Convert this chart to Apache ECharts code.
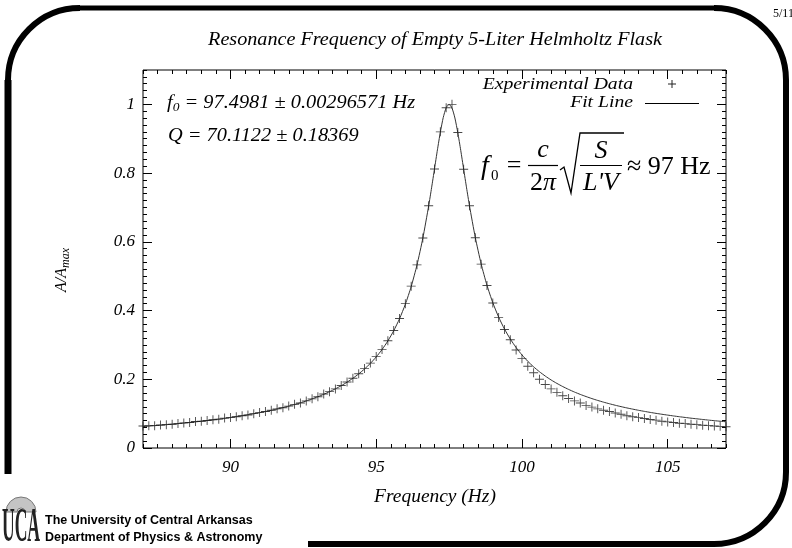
<!DOCTYPE html>
<html><head><meta charset="utf-8">
<script src="https://cdn.jsdelivr.net/npm/echarts/dist/echarts.min.js"></script>
<style>html,body{margin:0;padding:0;background:#fff}#c{width:792px;height:548px}</style>
</head><body><div id="c"></div>
<script>
// ---- data ----
const dataFreq = [87.0,87.2,87.4,87.6,87.8,88.0,88.2,88.4,88.6,88.8,89.0,89.2,89.4,89.6,89.8,90.0,90.2,90.4,90.6,90.8,
  91.0,91.2,91.4,91.6,91.8,92.0,92.2,92.4,92.6,92.8,93.0,93.2,93.4,93.6,93.8,94.0,94.2,94.4,94.6,94.8,
  95.0,95.2,95.4,95.6,95.8,96.0,96.2,96.4,96.6,96.8,97.0,97.2,97.4,97.6,97.8,98.0,98.2,98.4,98.6,98.8,
  99.0,99.2,99.4,99.6,99.8,100.0,100.2,100.4,100.6,100.8,101.0,101.2,101.4,101.6,101.8,102.0,102.2,102.4,102.6,102.8,
  103.0,103.2,103.4,103.6,103.8,104.0,104.2,104.4,104.6,104.8,105.0,105.2,105.4,105.6,105.8,106.0,106.2,106.4,106.6,106.8,107.0];
const dataAmp = [0.064,0.065,0.065,0.067,0.068,0.069,0.071,0.073,0.074,0.077,0.078,0.080,0.082,0.084,0.087,0.089,0.091,0.094,0.096,0.100,
  0.103,0.106,0.110,0.114,0.117,0.122,0.127,0.131,0.137,0.143,0.149,0.157,0.164,0.172,0.182,0.192,0.203,0.216,0.231,0.247,
  0.266,0.287,0.312,0.342,0.377,0.420,0.471,0.533,0.611,0.705,0.812,0.920,0.990,1.000,0.918,0.811,0.705,0.612,0.535,0.473,
  0.422,0.380,0.345,0.315,0.285,0.260,0.238,0.219,0.200,0.185,0.172,0.162,0.152,0.144,0.137,0.131,0.124,0.119,0.114,0.110,
  0.106,0.102,0.098,0.094,0.091,0.089,0.086,0.083,0.081,0.078,0.076,0.074,0.072,0.071,0.069,0.068,0.066,0.065,0.064,0.063,0.062];
const fitFreq = [87.0,87.2,87.4,87.6,87.8,88.0,88.2,88.4,88.6,88.8,89.0,89.2,89.4,89.6,89.8,90.0,90.2,90.4,90.6,90.8,
  91.0,91.2,91.4,91.6,91.8,92.0,92.2,92.4,92.6,92.8,93.0,93.2,93.4,93.6,93.8,94.0,94.2,94.4,94.6,94.8,
  95.0,95.2,95.4,95.6,95.8,96.0,96.2,96.4,96.6,96.8,96.9,97.0,97.1,97.2,97.3,97.4,97.5,97.6,97.7,97.8,97.9,98.0,98.1,98.2,
  98.4,98.6,98.8,99.0,99.2,99.4,99.6,99.8,100.0,100.2,100.4,100.6,100.8,101.0,101.2,101.4,101.6,101.8,102.0,102.2,102.4,102.6,102.8,
  103.0,103.2,103.4,103.6,103.8,104.0,104.2,104.4,104.6,104.8,105.0,105.2,105.4,105.6,105.8,106.0,106.2,106.4,106.6,106.8,107.0];
const fitAmp = [0.0623,0.0636,0.0650,0.0663,0.0678,0.0693,0.0709,0.0725,0.0742,0.0760,0.0779,0.0798,0.0819,0.0840,0.0863,0.0887,0.0912,0.0938,0.0967,0.0996,
  0.1028,0.1061,0.1097,0.1135,0.1175,0.1219,0.1266,0.1316,0.1370,0.1429,0.1492,0.1562,0.1638,0.1721,0.1813,0.1915,0.2029,0.2156,0.2300,0.2463,
  0.2649,0.2864,0.3115,0.3410,0.3761,0.4184,0.4696,0.5328,0.6105,0.7045,0.7572,0.8123,0.8675,0.9189,0.9617,0.9902,1.0000,0.9894,0.9604,0.9174,0.8662,0.8115,0.7570,0.7050,
  0.6123,0.5358,0.4735,0.4227,0.3810,0.3463,0.3171,0.2922,0.2709,0.2524,0.2362,0.2220,0.2093,0.1980,0.1879,0.1788,0.1705,0.1629,0.1560,0.1497,0.1438,0.1384,0.1334,
  0.1288,0.1244,0.1204,0.1166,0.1131,0.1097,0.1066,0.1036,0.1008,0.0982,0.0957,0.0933,0.0910,0.0889,0.0868,0.0849,0.0830,0.0812,0.0795,0.0779,0.0764];
const xTickLabels = [90, 95, 100, 105];
const yTickLabels = [0, 0.2, 0.4, 0.6, 0.8, 1];
const titleText = 'Resonance Frequency of Empty 5-Liter Helmholtz Flask';
const xName = 'Frequency (Hz)';
const legendData = 'Experimental Data';
const legendFit = 'Fit Line';

// ---- axis helpers ----
const xMinor = []; for (let i = 0; i <= 40; i++) xMinor.push(87 + i * 0.5);
const yMinor = []; for (let i = 0; i <= 55; i++) yMinor.push(+(i * 0.02).toFixed(2));
const SERIF = '"Liberation Serif", "DejaVu Serif", serif';
const labelFont = {fontFamily: SERIF, fontStyle: 'italic', fontSize: 17, color: '#000'};

function mkX(pos, ticks, len, labels) {
  return {type: 'value', min: 87, max: 107, position: pos, gridIndex: 0,
    axisLine: {show: false, onZero: false}, splitLine: {show: false},
    axisTick: {show: true, inside: true, length: len, customValues: ticks, lineStyle: {color: '#000', width: 1}},
    axisLabel: labels ? Object.assign({show: true, customValues: xTickLabels, margin: 11}, labelFont) : {show: false}};
}
function mkY(pos, ticks, len, labels) {
  return {type: 'value', min: 0, max: 1.1, position: pos, gridIndex: 0,
    axisLine: {show: false, onZero: false}, splitLine: {show: false},
    axisTick: {show: true, inside: true, length: len, customValues: ticks, lineStyle: {color: '#000', width: 1}},
    axisLabel: labels ? Object.assign({show: true, customValues: yTickLabels, margin: 8}, labelFont) : {show: false}};
}

const chart = echarts.init(document.getElementById('c'));
const plusPath = 'path://M0,4.5L10,4.5L10,5.5L0,5.5Z M4.5,0L5.5,0L5.5,10L4.5,10Z';
const frameStyle = {stroke: '#000', lineWidth: 6, fill: null};

chart.setOption({
  animation: false,
  backgroundColor: '#fff',
  grid: {left: 143, right: 66, top: 70, bottom: 100, show: true, borderColor: '#000', borderWidth: 1, backgroundColor: 'transparent'},
  xAxis: [mkX('bottom', xTickLabels, 9, true), mkX('bottom', xMinor, 4, false), mkX('top', xTickLabels, 9, false), mkX('top', xMinor, 4, false)],
  yAxis: [mkY('left', yTickLabels, 9, true), mkY('left', yMinor, 4, false), mkY('right', yTickLabels, 9, false), mkY('right', yMinor, 4, false)],
  series: [
    {type: 'line', name: legendFit, data: fitFreq.map((f, i) => [f, fitAmp[i]]), showSymbol: false, smooth: 0.2,
     lineStyle: {color: '#333', width: 1}, z: 2},
    {type: 'scatter', name: legendData, data: dataFreq.map((f, i) => [f, dataAmp[i]]), symbol: plusPath, symbolSize: 9,
     itemStyle: {color: '#1a1a1a'}, z: 3}
  ],
  graphic: [
    // slide frame
    {type: 'line', shape: {x1: 8, y1: 474, x2: 8, y2: 80}, style: {stroke: '#000', lineWidth: 7}},
    {type: 'arc', shape: {cx: 80, cy: 80, r: 72, startAngle: Math.PI, endAngle: 1.5 * Math.PI, clockwise: true}, style: frameStyle},
    {type: 'line', shape: {x1: 80, y1: 8, x2: 714, y2: 8}, style: {stroke: '#000', lineWidth: 5}},
    {type: 'arc', shape: {cx: 714, cy: 80, r: 72, startAngle: 1.5 * Math.PI, endAngle: 2 * Math.PI, clockwise: true}, style: frameStyle},
    {type: 'line', shape: {x1: 786, y1: 80, x2: 786, y2: 472}, style: {stroke: '#000', lineWidth: 6}},
    {type: 'arc', shape: {cx: 714, cy: 472, r: 72, startAngle: 0, endAngle: 0.5 * Math.PI, clockwise: true}, style: frameStyle},
    {type: 'line', shape: {x1: 714, y1: 544, x2: 308, y2: 544}, style: {stroke: '#000', lineWidth: 6}},
    {type: 'text', x: 773, y: 8, style: {text: '5/11', fontFamily: SERIF, fontSize: 12, fill: '#000'}},
    // title
    {type: 'text', x: 435, y: 40, scaleX: 1.12, style: {text: titleText, fontFamily: SERIF, fontStyle: 'italic', fontSize: 18, fill: '#000', align: 'center', verticalAlign: 'middle'}},
    // axis names
    {type: 'text', x: 435, y: 497, scaleX: 1.08, style: {text: xName, fontFamily: SERIF, fontStyle: 'italic', fontSize: 18, fill: '#000', align: 'center', verticalAlign: 'middle'}},
    {type: 'text', x: 62, y: 270, rotation: Math.PI / 2, style: {text: '{a|A/A}{b|max}', align: 'center', verticalAlign: 'middle',
      rich: {a: {fontFamily: SERIF, fontStyle: 'italic', fontSize: 16, fill: '#000'}, b: {fontFamily: SERIF, fontStyle: 'italic', fontSize: 12, fill: '#000', padding: [8, 0, 0, 0]}}}},
    // fit results
    {type: 'text', x: 167, y: 103, scaleX: 1.13, style: {text: '{a|f}{b|0}{a| = 97.4981 ± 0.00296571 Hz}', verticalAlign: 'middle',
      rich: {a: {fontFamily: SERIF, fontStyle: 'italic', fontSize: 18, fill: '#000'}, b: {fontFamily: SERIF, fontStyle: 'italic', fontSize: 12, fill: '#000', padding: [9, 0, 0, 0]}}}},
    {type: 'text', x: 168, y: 136, scaleX: 1.13, style: {text: 'Q = 70.1122 ± 0.18369', fontFamily: SERIF, fontStyle: 'italic', fontSize: 18, fill: '#000', verticalAlign: 'middle'}},
    // legend
    {type: 'text', x: 633, y: 85, scaleX: 1.23, style: {text: legendData, fontFamily: SERIF, fontStyle: 'italic', fontSize: 16, fill: '#000', align: 'right', verticalAlign: 'middle'}},
    {type: 'text', x: 633, y: 103, scaleX: 1.23, style: {text: legendFit, fontFamily: SERIF, fontStyle: 'italic', fontSize: 16, fill: '#000', align: 'right', verticalAlign: 'middle'}},
    {type: 'line', shape: {x1: 668, y1: 84, x2: 676, y2: 84}, style: {stroke: '#222', lineWidth: 1}},
    {type: 'line', shape: {x1: 672, y1: 80, x2: 672, y2: 88}, style: {stroke: '#222', lineWidth: 1}},
    {type: 'line', shape: {x1: 645, y1: 103.5, x2: 699, y2: 103.5}, style: {stroke: '#000', lineWidth: 1}},
    // formula
    {type: 'text', x: 481, y: 167, style: {text: 'f', fontFamily: SERIF, fontStyle: 'italic', fontSize: 28, fill: '#000', verticalAlign: 'middle'}},
    {type: 'text', x: 491, y: 176, style: {text: '0', fontFamily: SERIF, fontSize: 15, fill: '#000', verticalAlign: 'middle'}},
    {type: 'text', x: 514, y: 166, style: {text: '=', fontFamily: SERIF, fontSize: 26, fill: '#000', align: 'center', verticalAlign: 'middle'}},
    {type: 'text', x: 543, y: 150, style: {text: 'c', fontFamily: SERIF, fontStyle: 'italic', fontSize: 26, fill: '#000', align: 'center', verticalAlign: 'middle'}},
    {type: 'line', shape: {x1: 528, y1: 165.5, x2: 558, y2: 165.5}, style: {stroke: '#000', lineWidth: 1.2}},
    {type: 'text', x: 543, y: 183, style: {text: '{r|2}{i|π}', align: 'center', verticalAlign: 'middle',
      rich: {r: {fontFamily: SERIF, fontSize: 26, fill: '#000'}, i: {fontFamily: SERIF, fontStyle: 'italic', fontSize: 26, fill: '#000'}}}},
    {type: 'polyline', shape: {points: [[560, 170], [564, 167], [571, 193], [580, 133], [624, 133]]}, style: {stroke: '#000', lineWidth: 1.3, fill: null}},
    {type: 'text', x: 601, y: 151, style: {text: 'S', fontFamily: SERIF, fontStyle: 'italic', fontSize: 26, fill: '#000', align: 'center', verticalAlign: 'middle'}},
    {type: 'line', shape: {x1: 580, y1: 165.5, x2: 622, y2: 165.5}, style: {stroke: '#000', lineWidth: 1.2}},
    {type: 'text', x: 601, y: 183, style: {text: "L'V", fontFamily: SERIF, fontStyle: 'italic', fontSize: 26, fill: '#000', align: 'center', verticalAlign: 'middle'}},
    {type: 'text', x: 627, y: 167, style: {text: '≈ 97 Hz', fontFamily: SERIF, fontSize: 26, fill: '#000', verticalAlign: 'middle'}},
    // logo
    {type: 'sector', shape: {cx: 21, cy: 512, r0: 4, r: 15, startAngle: Math.PI, endAngle: 2 * Math.PI}, style: {fill: '#c4c4c4', stroke: '#777', lineWidth: 1}},
    {type: 'text', x: 21, y: 529, scaleX: 0.42, scaleY: 1.15, style: {text: 'UCA', fontFamily: SERIF, fontWeight: 'bold', fontSize: 42, fill: '#222', align: 'center', verticalAlign: 'middle'}},
    {type: 'text', x: 45, y: 521, style: {text: 'The University of Central Arkansas', fontFamily: '"Liberation Sans", Arial, sans-serif', fontWeight: 'bold', fontSize: 12.5, fill: '#000', verticalAlign: 'middle'}},
    {type: 'text', x: 45, y: 538, style: {text: 'Department of Physics & Astronomy', fontFamily: '"Liberation Sans", Arial, sans-serif', fontWeight: 'bold', fontSize: 12.5, fill: '#000', verticalAlign: 'middle'}}
  ]
});
</script>
</body></html>
